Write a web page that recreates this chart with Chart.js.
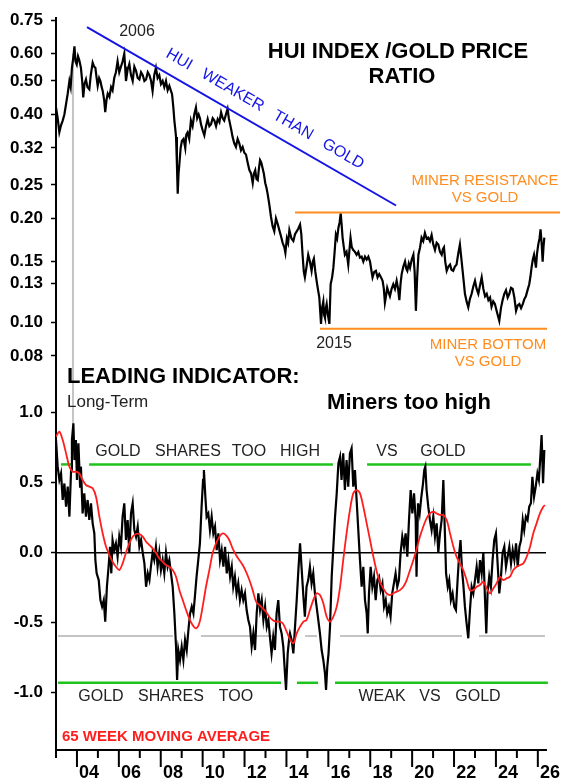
<!DOCTYPE html>
<html><head><meta charset="utf-8">
<script src="https://cdn.jsdelivr.net/npm/chart.js@4.4.1/dist/chart.umd.min.js"></script>
<style>
html,body{margin:0;padding:0;background:#fff;}
#wrap{position:relative;width:564px;height:782px;overflow:hidden;}
canvas{position:absolute;left:0;top:0;}
</style>
</head><body>
<div id="wrap"><canvas id="cTop" width="564" height="782"></canvas><canvas id="cBot" width="564" height="782"></canvas></div>
<script>
// ---------- DATA ----------
const ratioYears = [2003.00,2003.08,2003.16,2003.24,2003.32,2003.40,2003.48,2003.56,2003.64,2003.70,2003.76,2003.82,2003.88,2003.93,2003.99,2004.05,2004.11,2004.19,2004.25,2004.30,2004.36,2004.43,2004.50,2004.59,2004.66,2004.75,2004.82,2004.88,2004.94,2004.99,2005.06,2005.12,2005.18,2005.23,2005.30,2005.35,2005.41,2005.47,2005.55,2005.63,2005.70,2005.78,2005.86,2005.94,2006.02,2006.10,2006.18,2006.26,2006.30,2006.34,2006.42,2006.50,2006.58,2006.66,2006.74,2006.82,2006.90,2006.98,2007.06,2007.14,2007.22,2007.30,2007.38,2007.46,2007.54,2007.61,2007.69,2007.77,2007.85,2007.93,2008.01,2008.09,2008.17,2008.25,2008.33,2008.41,2008.48,2008.54,2008.60,2008.65,2008.70,2008.73,2008.77,2008.81,2008.85,2008.89,2008.95,2009.01,2009.09,2009.17,2009.22,2009.28,2009.36,2009.44,2009.52,2009.60,2009.68,2009.74,2009.81,2009.87,2009.92,2010.00,2010.08,2010.16,2010.24,2010.32,2010.40,2010.48,2010.56,2010.64,2010.72,2010.80,2010.88,2010.96,2011.03,2011.11,2011.19,2011.25,2011.31,2011.37,2011.43,2011.51,2011.59,2011.67,2011.75,2011.83,2011.91,2011.99,2012.07,2012.15,2012.23,2012.31,2012.39,2012.45,2012.51,2012.57,2012.63,2012.69,2012.74,2012.80,2012.86,2012.92,2012.99,2013.05,2013.10,2013.18,2013.26,2013.34,2013.42,2013.50,2013.58,2013.66,2013.74,2013.82,2013.90,2013.95,2014.02,2014.08,2014.14,2014.24,2014.33,2014.41,2014.49,2014.57,2014.65,2014.71,2014.77,2014.83,2014.88,2014.96,2015.04,2015.12,2015.20,2015.26,2015.31,2015.38,2015.44,2015.50,2015.57,2015.61,2015.65,2015.70,2015.76,2015.80,2015.84,2015.88,2015.92,2015.98,2016.05,2016.11,2016.18,2016.24,2016.30,2016.36,2016.42,2016.48,2016.54,2016.59,2016.64,2016.68,2016.74,2016.79,2016.87,2016.95,2017.00,2017.06,2017.12,2017.19,2017.27,2017.35,2017.43,2017.51,2017.59,2017.67,2017.75,2017.83,2017.91,2017.99,2018.05,2018.11,2018.19,2018.27,2018.35,2018.43,2018.51,2018.59,2018.65,2018.70,2018.76,2018.81,2018.88,2018.94,2019.02,2019.10,2019.18,2019.26,2019.33,2019.39,2019.45,2019.50,2019.58,2019.66,2019.72,2019.77,2019.84,2019.90,2019.98,2020.06,2020.12,2020.18,2020.24,2020.30,2020.38,2020.45,2020.53,2020.61,2020.69,2020.77,2020.85,2020.93,2021.01,2021.09,2021.17,2021.25,2021.33,2021.41,2021.47,2021.52,2021.58,2021.65,2021.73,2021.81,2021.88,2021.96,2022.04,2022.12,2022.20,2022.28,2022.34,2022.41,2022.47,2022.52,2022.60,2022.68,2022.76,2022.84,2022.92,2023.00,2023.08,2023.16,2023.24,2023.32,2023.40,2023.48,2023.56,2023.64,2023.72,2023.79,2023.87,2023.95,2024.05,2024.16,2024.24,2024.32,2024.40,2024.48,2024.56,2024.64,2024.72,2024.80,2024.88,2024.96,2025.04,2025.12,2025.20,2025.28,2025.36,2025.43,2025.51,2025.59,2025.65,2025.70,2025.76,2025.82,2025.87,2025.91,2025.96,2026.02,2026.08,2026.13,2026.18,2026.23,2026.27,2026.31];
const ratioValues = [0.419,0.39,0.355,0.372,0.384,0.40,0.429,0.46,0.500,0.48,0.546,0.58,0.630,0.57,0.558,0.59,0.575,0.546,0.50,0.448,0.49,0.505,0.48,0.473,0.52,0.565,0.55,0.546,0.51,0.484,0.51,0.500,0.48,0.468,0.44,0.406,0.44,0.46,0.45,0.48,0.47,0.51,0.53,0.57,0.53,0.55,0.57,0.60,0.55,0.50,0.54,0.56,0.52,0.50,0.55,0.535,0.51,0.505,0.53,0.52,0.50,0.505,0.53,0.52,0.50,0.468,0.52,0.546,0.51,0.52,0.49,0.50,0.48,0.50,0.47,0.484,0.47,0.458,0.42,0.384,0.36,0.344,0.29,0.236,0.27,0.288,0.32,0.335,0.34,0.32,0.35,0.355,0.34,0.384,0.37,0.40,0.419,0.39,0.40,0.39,0.375,0.36,0.348,0.37,0.388,0.37,0.375,0.39,0.384,0.37,0.388,0.38,0.406,0.39,0.384,0.40,0.415,0.39,0.375,0.36,0.344,0.33,0.322,0.34,0.33,0.315,0.322,0.31,0.306,0.29,0.276,0.27,0.253,0.27,0.276,0.26,0.258,0.28,0.295,0.29,0.28,0.27,0.253,0.245,0.236,0.22,0.2026,0.19,0.1835,0.20,0.193,0.185,0.1776,0.17,0.165,0.159,0.175,0.17,0.185,0.175,0.172,0.18,0.1835,0.187,0.192,0.18,0.157,0.14,0.135,0.145,0.157,0.15,0.141,0.15,0.153,0.14,0.132,0.125,0.118,0.108,0.099,0.11,0.115,0.105,0.103,0.11,0.113,0.105,0.099,0.129,0.135,0.144,0.16,0.1795,0.175,0.1876,0.195,0.207,0.19,0.176,0.165,0.157,0.16,0.147,0.16,0.176,0.165,0.162,0.16,0.157,0.16,0.154,0.155,0.150,0.155,0.152,0.155,0.150,0.142,0.135,0.14,0.141,0.135,0.138,0.135,0.132,0.125,0.114,0.12,0.126,0.122,0.119,0.125,0.129,0.125,0.132,0.125,0.116,0.13,0.138,0.145,0.150,0.143,0.141,0.148,0.144,0.152,0.157,0.14,0.108,0.135,0.157,0.165,0.176,0.172,0.1815,0.175,0.176,0.172,0.179,0.168,0.162,0.17,0.168,0.16,0.157,0.163,0.165,0.15,0.141,0.145,0.147,0.142,0.141,0.145,0.147,0.158,0.168,0.155,0.141,0.13,0.121,0.115,0.1106,0.117,0.121,0.127,0.132,0.125,0.121,0.128,0.135,0.125,0.119,0.121,0.116,0.118,0.111,0.115,0.113,0.107,0.101,0.11,0.116,0.121,0.124,0.118,0.121,0.126,0.125,0.118,0.108,0.112,0.113,0.11,0.113,0.117,0.119,0.124,0.129,0.136,0.144,0.152,0.157,0.15,0.144,0.158,0.168,0.175,0.186,0.17,0.150,0.165,0.176];

const indYears = [2003.00,2003.08,2003.16,2003.24,2003.32,2003.40,2003.48,2003.56,2003.64,2003.72,2003.76,2003.83,2003.88,2003.95,2004.00,2004.07,2004.15,2004.19,2004.27,2004.35,2004.43,2004.51,2004.59,2004.67,2004.75,2004.83,2004.88,2004.94,2005.04,2005.12,2005.20,2005.28,2005.35,2005.43,2005.51,2005.58,2005.64,2005.70,2005.78,2005.86,2005.94,2006.02,2006.10,2006.18,2006.26,2006.34,2006.42,2006.50,2006.58,2006.66,2006.74,2006.82,2006.90,2006.98,2007.06,2007.14,2007.22,2007.30,2007.38,2007.46,2007.53,2007.61,2007.69,2007.77,2007.85,2007.93,2008.01,2008.09,2008.17,2008.25,2008.33,2008.41,2008.49,2008.57,2008.65,2008.73,2008.78,2008.84,2008.92,2009.00,2009.08,2009.16,2009.24,2009.32,2009.40,2009.48,2009.56,2009.63,2009.71,2009.79,2009.87,2009.95,2010.02,2010.06,2010.13,2010.19,2010.27,2010.35,2010.43,2010.51,2010.59,2010.67,2010.75,2010.83,2010.91,2010.99,2011.07,2011.15,2011.23,2011.31,2011.39,2011.46,2011.54,2011.62,2011.70,2011.78,2011.86,2011.94,2012.02,2012.10,2012.18,2012.26,2012.34,2012.42,2012.50,2012.58,2012.66,2012.74,2012.82,2012.90,2012.98,2013.06,2013.14,2013.21,2013.29,2013.37,2013.45,2013.53,2013.61,2013.69,2013.77,2013.85,2013.93,2013.98,2014.06,2014.14,2014.17,2014.25,2014.33,2014.41,2014.49,2014.57,2014.65,2014.73,2014.81,2014.88,2014.96,2015.04,2015.12,2015.20,2015.28,2015.36,2015.44,2015.52,2015.60,2015.68,2015.76,2015.84,2015.89,2015.95,2016.01,2016.08,2016.16,2016.24,2016.32,2016.40,2016.48,2016.56,2016.63,2016.71,2016.79,2016.87,2016.95,2017.03,2017.11,2017.19,2017.27,2017.35,2017.43,2017.51,2017.59,2017.67,2017.75,2017.83,2017.88,2017.94,2018.02,2018.10,2018.18,2018.26,2018.34,2018.42,2018.50,2018.58,2018.66,2018.74,2018.81,2018.89,2018.97,2019.05,2019.13,2019.21,2019.29,2019.37,2019.45,2019.53,2019.61,2019.69,2019.77,2019.85,2019.93,2020.01,2020.09,2020.17,2020.21,2020.28,2020.36,2020.44,2020.52,2020.58,2020.63,2020.69,2020.77,2020.85,2020.93,2021.01,2021.09,2021.17,2021.25,2021.33,2021.41,2021.49,2021.55,2021.62,2021.70,2021.77,2021.85,2021.93,2022.01,2022.09,2022.17,2022.25,2022.31,2022.38,2022.44,2022.52,2022.60,2022.68,2022.76,2022.84,2022.92,2023.00,2023.08,2023.16,2023.24,2023.32,2023.40,2023.48,2023.54,2023.60,2023.68,2023.76,2023.84,2023.92,2024.00,2024.08,2024.16,2024.24,2024.32,2024.40,2024.48,2024.56,2024.64,2024.72,2024.80,2024.88,2024.96,2025.04,2025.12,2025.20,2025.28,2025.35,2025.43,2025.51,2025.59,2025.67,2025.74,2025.82,2025.90,2025.98,2026.05,2026.12,2026.18,2026.25,2026.31];
const indValues = [0.805,0.615,0.52,0.567,0.377,0.495,0.329,0.472,0.258,0.591,0.805,0.924,0.662,0.805,0.52,0.781,0.472,0.615,0.281,0.424,0.258,0.377,0.234,0.353,0.21,0.138,-0.052,-0.147,-0.195,-0.338,-0.385,-0.338,-0.492,-0.243,-0.1,0.043,-0.147,0.091,0.019,0.067,-0.028,0.115,0.043,0.258,0.353,0.091,0.234,0.0,0.281,0.353,0.162,0.115,0.186,0.043,0.091,0.0,-0.076,-0.243,-0.147,-0.195,-0.1,0.0,-0.052,0.043,-0.1,0.0,-0.124,-0.052,-0.147,0.0,-0.1,-0.052,-0.147,-0.243,-0.433,-0.671,-0.909,-0.695,-0.766,-0.671,-0.766,-0.623,-0.695,-0.552,-0.433,-0.385,-0.433,-0.314,-0.171,-0.052,0.067,0.329,0.52,0.591,0.4,0.258,0.281,0.162,0.258,0.138,0.186,0.019,0.138,-0.052,0.019,-0.1,0.043,-0.147,-0.052,-0.171,-0.1,-0.243,-0.171,-0.29,-0.219,-0.338,-0.267,-0.338,-0.29,-0.409,-0.48,-0.528,-0.671,-0.576,-0.695,-0.433,-0.29,-0.409,-0.338,-0.48,-0.385,-0.528,-0.48,-0.6,-0.719,-0.6,-0.695,-0.433,-0.338,-0.528,-0.576,-0.671,-0.862,-0.98,-0.719,-0.6,-0.576,-0.624,-0.719,-0.528,-0.338,-0.124,0.067,-0.124,-0.314,-0.457,-0.243,-0.195,-0.1,-0.219,-0.147,-0.29,-0.385,-0.48,-0.576,-0.695,-0.766,-0.862,-0.98,-0.814,-0.719,-0.528,-0.171,0.043,0.258,0.424,0.638,0.686,0.52,0.71,0.448,0.662,0.472,0.71,0.746,0.472,0.591,0.377,0.162,-0.052,-0.243,-0.1,-0.338,-0.433,-0.576,-0.29,-0.1,-0.243,-0.171,-0.338,-0.195,-0.171,-0.267,-0.219,-0.385,-0.338,-0.433,-0.385,-0.457,-0.29,-0.219,-0.147,-0.243,-0.195,0.0,0.115,0.043,0.138,-0.028,0.234,0.448,0.281,0.424,0.234,-0.171,0.353,0.281,0.4,0.496,0.591,0.615,0.448,0.329,0.234,0.162,0.258,0.115,0.21,0.0,0.138,0.234,0.52,0.21,-0.147,-0.243,-0.195,-0.338,-0.29,-0.385,-0.409,-0.195,0.0,0.091,-0.124,-0.219,-0.385,-0.504,-0.611,-0.409,-0.243,-0.29,-0.195,-0.1,-0.219,-0.052,-0.147,0.0,-0.338,-0.576,-0.29,-0.171,-0.243,-0.052,0.091,0.138,-0.076,-0.29,-0.171,0.0,0.043,-0.1,-0.028,0.043,-0.076,0.019,-0.052,0.067,-0.1,0.043,0.091,0.234,0.162,0.258,0.234,0.329,0.353,0.543,0.4,0.472,0.567,0.52,0.686,0.841,0.496,0.734];

const maYears = [2003.00,2003.16,2003.32,2003.48,2003.64,2003.80,2003.95,2004.11,2004.27,2004.43,2004.59,2004.75,2004.91,2005.07,2005.23,2005.39,2005.55,2005.70,2005.86,2006.02,2006.18,2006.34,2006.50,2006.66,2006.82,2006.98,2007.14,2007.30,2007.46,2007.61,2007.77,2007.93,2008.09,2008.25,2008.41,2008.57,2008.73,2008.89,2009.05,2009.21,2009.36,2009.52,2009.68,2009.84,2010.00,2010.16,2010.32,2010.48,2010.64,2010.80,2010.96,2011.11,2011.27,2011.43,2011.59,2011.75,2011.91,2012.07,2012.23,2012.39,2012.55,2012.71,2012.86,2013.02,2013.18,2013.34,2013.50,2013.66,2013.82,2013.98,2014.14,2014.33,2014.49,2014.65,2014.81,2014.96,2015.12,2015.28,2015.44,2015.60,2015.76,2015.92,2016.08,2016.24,2016.40,2016.56,2016.71,2016.87,2017.03,2017.19,2017.35,2017.51,2017.67,2017.83,2017.99,2018.15,2018.31,2018.46,2018.62,2018.78,2018.94,2019.10,2019.26,2019.42,2019.58,2019.74,2019.90,2020.06,2020.21,2020.37,2020.53,2020.69,2020.85,2021.01,2021.17,2021.33,2021.49,2021.65,2021.81,2021.97,2022.12,2022.28,2022.44,2022.60,2022.76,2022.92,2023.08,2023.24,2023.40,2023.56,2023.72,2023.88,2024.03,2024.19,2024.35,2024.51,2024.67,2024.83,2024.99,2025.15,2025.31,2025.47,2025.63,2025.78,2025.94,2026.10,2026.26,2026.34];
const maValues = [0.829,0.865,0.805,0.71,0.615,0.579,0.579,0.567,0.52,0.484,0.472,0.46,0.4,0.258,0.138,0.043,-0.016,-0.064,-0.1,-0.124,-0.076,0.0,0.067,0.115,0.134,0.134,0.115,0.079,0.055,0.031,0.0,-0.04,-0.064,-0.088,-0.1,-0.124,-0.171,-0.267,-0.338,-0.409,-0.469,-0.516,-0.54,-0.504,-0.385,-0.243,-0.124,0.0,0.067,0.115,0.138,0.126,0.091,0.031,-0.016,-0.052,-0.088,-0.135,-0.195,-0.267,-0.35,-0.373,-0.397,-0.421,-0.457,-0.48,-0.492,-0.492,-0.504,-0.552,-0.61,-0.647,-0.576,-0.528,-0.492,-0.48,-0.409,-0.338,-0.29,-0.302,-0.361,-0.457,-0.492,-0.457,-0.385,-0.243,-0.052,0.138,0.305,0.424,0.448,0.424,0.329,0.21,0.091,-0.028,-0.135,-0.207,-0.254,-0.29,-0.302,-0.29,-0.278,-0.267,-0.243,-0.195,-0.124,-0.052,0.024,0.115,0.186,0.246,0.281,0.293,0.281,0.27,0.27,0.234,0.138,0.043,-0.028,-0.076,-0.124,-0.195,-0.267,-0.267,-0.243,-0.231,-0.207,-0.254,-0.29,-0.254,-0.219,-0.171,-0.195,-0.183,-0.171,-0.124,-0.1,-0.088,-0.076,-0.028,0.043,0.138,0.21,0.281,0.329,0.34];

const topTickValues = [0.75,0.60,0.50,0.40,0.32,0.25,0.20,0.15,0.13,0.10,0.08];
const botTickValues = [1.0,0.5,0.0,-0.5,-1.0];
const yearLabels = ['04','06','08','10','12','14','16','18','20','22','24','26'];
const yearLabelYears = [2004,2006,2008,2010,2012,2014,2016,2018,2020,2022,2024,2026];

// reference lines (data coordinates)
const resistance = {from:2014.41, to:2027.06, value:0.208};
const bottomLine = {from:2015.60, to:2026.44, value:0.0958};
const trendLine = {x0:2004.48, y0:0.716, x1:2019.23, y1:0.218};
const peakYear = 2003.81;
const upperBand = 0.631, lowerBand = -0.929, greyBand = -0.595;
const upperSegs = [[2003.24,2003.76],[2004.58,2016.22],[2017.85,2025.67]];
const lowerSegs = [[2003.10,2013.74],[2014.50,2015.51],[2016.32,2026.48]];
const greySegs = [[2003.10,2008.58],[2009.92,2013.45],[2014.89,2015.46],[2016.56,2022.38],[2023.19,2026.34]];

// ---------- SETUP ----------
const FONT = "'Liberation Sans', Arial, sans-serif";
const X_MIN = 2003, X_MAX = 2026.39;
Chart.defaults.font.family = FONT;
Chart.defaults.color = '#000';

function pts(xs, ys){ return xs.map((x,i)=>({x:x, y:ys[i]})); }
function txt(ctx, s, x, y, font, color, align){
  ctx.save(); ctx.font = font; ctx.fillStyle = color; ctx.textAlign = align||'center'; ctx.textBaseline='middle';
  ctx.fillText(s, x, y); ctx.restore();
}
function seg(ctx, x0,y0,x1,y1,color,w){
  ctx.save(); ctx.strokeStyle=color; ctx.lineWidth=w; ctx.beginPath(); ctx.moveTo(x0,y0); ctx.lineTo(x1,y1); ctx.stroke(); ctx.restore();
}

const ORANGE = '#ff8c1e', BLUE = '#1414e6', GREEN = '#1ec31e', GREY = '#c4c4c4', RED = '#ff1e1e';

const topDecor = {
  id:'topDecor',
  beforeDatasetsDraw(chart){
    const ctx=chart.ctx, x=chart.scales.x, y=chart.scales.y;
    const px = x.getPixelForValue(peakYear);
    seg(ctx, px, y.getPixelForValue(0.60), px, chart.chartArea.bottom, GREY, 2);
  },
  afterDatasetsDraw(chart){
    const ctx=chart.ctx, x=chart.scales.x, y=chart.scales.y;
    seg(ctx, x.getPixelForValue(trendLine.x0), y.getPixelForValue(trendLine.y0), x.getPixelForValue(trendLine.x1), y.getPixelForValue(trendLine.y1), BLUE, 2);
    seg(ctx, x.getPixelForValue(resistance.from), y.getPixelForValue(resistance.value), x.getPixelForValue(resistance.to), y.getPixelForValue(resistance.value), ORANGE, 2);
    seg(ctx, x.getPixelForValue(bottomLine.from), y.getPixelForValue(bottomLine.value), x.getPixelForValue(bottomLine.to), y.getPixelForValue(bottomLine.value), ORANGE, 2);
  },
  afterDraw(chart){
    const ctx=chart.ctx, x=chart.scales.x, y=chart.scales.y;
    txt(ctx,'2006',137,32,"16px "+FONT,'#222');
    txt(ctx,'HUI INDEX /GOLD PRICE',398,52,"bold 22px "+FONT,'#000');
    txt(ctx,'RATIO',402,77,"bold 22px "+FONT,'#000');
    txt(ctx,'MINER RESISTANCE',485,181,"15px "+FONT,ORANGE);
    txt(ctx,'VS GOLD',485,198,"15px "+FONT,ORANGE);
    txt(ctx,'2015',334,344,"16px "+FONT,'#222');
    txt(ctx,'MINER BOTTOM',488,345,"15px "+FONT,ORANGE);
    txt(ctx,'VS GOLD',488,362,"15px "+FONT,ORANGE);
    const ax = x.getPixelForValue(trendLine.x0), ay = y.getPixelForValue(trendLine.y0);
    const bx = x.getPixelForValue(trendLine.x1), by = y.getPixelForValue(trendLine.y1);
    const ang = Math.atan2(by-ay, bx-ax);
    ctx.save(); ctx.translate(265,109); ctx.rotate(ang);
    ctx.font = "16px "+FONT; ctx.fillStyle = BLUE; ctx.textAlign='center'; ctx.textBaseline='middle';
    ctx.fillText('HUI   WEAKER   THAN   GOLD',0,0); ctx.restore();
  }
};

const botDecor = {
  id:'botDecor',
  beforeDatasetsDraw(chart){
    const ctx=chart.ctx, x=chart.scales.x, y=chart.scales.y;
    seg(ctx, x.getPixelForValue(X_MIN), y.getPixelForValue(0), x.getPixelForValue(X_MAX), y.getPixelForValue(0), '#000', 1.5);
    const yu=y.getPixelForValue(upperBand), yl=y.getPixelForValue(lowerBand), yg=y.getPixelForValue(greyBand);
    upperSegs.forEach(s=>seg(ctx,x.getPixelForValue(s[0]),yu,x.getPixelForValue(s[1]),yu,GREEN,2.5));
    lowerSegs.forEach(s=>seg(ctx,x.getPixelForValue(s[0]),yl,x.getPixelForValue(s[1]),yl,GREEN,2.5));
    greySegs.forEach(s=>seg(ctx,x.getPixelForValue(s[0]),yg,x.getPixelForValue(s[1]),yg,GREY,2));
    const px = x.getPixelForValue(peakYear);
    seg(ctx, px, chart.chartArea.top, px, y.getPixelForValue(0.92), GREY, 2);
  },
  afterDraw(chart){
    const ctx=chart.ctx, x=chart.scales.x, y=chart.scales.y;
    const base = chart.chartArea.bottom;
    for(let yr=2003; yr<=2026; yr++){
      const px = x.getPixelForValue(yr);
      seg(ctx, px, base, px, base + (yr%2===0?17:8), '#000', 2);
    }
    yearLabels.forEach((l,i)=>txt(ctx,l,x.getPixelForValue(yearLabelYears[i]+0.58),773,"bold 18px "+FONT,'#000'));
    txt(ctx,'LEADING INDICATOR:',67,377,"bold 22px "+FONT,'#000','left');
    txt(ctx,'Long-Term',67,402,"17px "+FONT,'#222','left');
    txt(ctx,'Miners too high',409,403,"bold 22px "+FONT,'#000');
    const f16 = "16px "+FONT;
    [['GOLD',118],['SHARES',188],['TOO',249],['HIGH',300],['VS',387],['GOLD',443]].forEach(a=>txt(ctx,a[0],a[1],452,f16,'#222'));
    [['GOLD',101],['SHARES',171],['TOO',236],['WEAK',382],['VS',430],['GOLD',478]].forEach(a=>txt(ctx,a[0],a[1],697,f16,'#222'));
    txt(ctx,'65 WEEK MOVING AVERAGE',62,737,"bold 15px "+FONT,RED,'left');
  }
};

const yAxisCommon = {
  grid:{display:true, drawOnChartArea:false, drawTicks:true, tickLength:5, tickColor:'#000', tickWidth:1.5},
  border:{display:true, color:'#000', width:2},
  ticks:{autoSkip:false, padding:8, color:'#000', font:{family:FONT, size:17, weight:'bold'}},
  afterFit:(s)=>{ s.width = 56; }
};

new Chart(document.getElementById('cTop'), {
  type:'line',
  data:{datasets:[{data:pts(ratioYears, ratioValues), borderColor:'#000', borderWidth:2.2, pointRadius:0, tension:0}]},
  options:{
    responsive:false, animation:false, events:[],
    layout:{padding:{left:0, right:18, top:15, bottom:402}},
    plugins:{legend:{display:false}, tooltip:{enabled:false}},
    scales:{
      x:{type:'linear', min:X_MIN, max:X_MAX, display:false},
      y:Object.assign({}, yAxisCommon, {type:'logarithmic', min:0.0681, max:0.760,
        afterBuildTicks:(s)=>{ s.ticks = topTickValues.map(v=>({value:v})); },
        ticks:Object.assign({}, yAxisCommon.ticks, {callback:(v)=>Number(v).toFixed(2)})})
    }
  },
  plugins:[topDecor]
});

new Chart(document.getElementById('cBot'), {
  type:'line',
  data:{datasets:[
    {data:pts(maYears, maValues), borderColor:RED, borderWidth:1.8, pointRadius:0, tension:0.3},
    {data:pts(indYears, indValues), borderColor:'#000', borderWidth:2.2, pointRadius:0, tension:0}
  ]},
  options:{
    responsive:false, animation:false, events:[],
    layout:{padding:{left:0, right:18, top:380, bottom:0}},
    plugins:{legend:{display:false}, tooltip:{enabled:false}},
    scales:{
      x:{type:'linear', min:X_MIN, max:X_MAX,
        grid:{display:true, drawOnChartArea:false, drawTicks:false},
        border:{display:true, color:'#000', width:2},
        ticks:{display:false},
        afterFit:(s)=>{ s.height = 32; }},
      y:Object.assign({}, yAxisCommon, {type:'linear', min:-1.409, max:1.234,
        afterBuildTicks:(s)=>{ s.ticks = botTickValues.map(v=>({value:v})); },
        ticks:Object.assign({}, yAxisCommon.ticks, {callback:(v)=>Number(v).toFixed(1)})})
    }
  },
  plugins:[botDecor]
});
</script>
</body></html>
